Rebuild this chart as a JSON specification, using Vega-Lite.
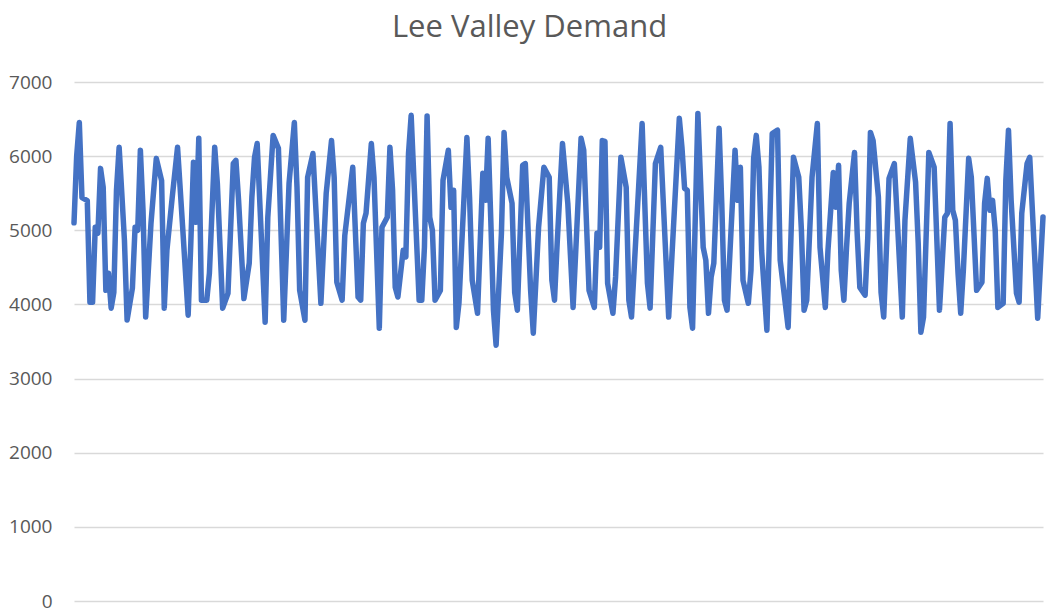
{
  "$schema": "https://vega.github.io/schema/vega-lite/v6.json",
  "width": 969,
  "height": 519,
  "autosize": {"type": "none"},
  "padding": {"left": 74, "top": 82, "right": 8, "bottom": 8},
  "background": "white",
  "title": {
    "text": "Lee Valley Demand",
    "font": "Open Sans",
    "fontSize": 31,
    "fontWeight": "normal",
    "color": "#595959",
    "anchor": "middle",
    "offset": 29,
    "dx": -29
  },
  "config": {"view": {"stroke": null}},
  "data": {
    "values": [
      {"day": 0, "demand": 5100}, {"day": 1, "demand": 6000}, {"day": 2, "demand": 6455}, {"day": 3, "demand": 5440},
      {"day": 5, "demand": 5400}, {"day": 6, "demand": 4030}, {"day": 7, "demand": 4030}, {"day": 8, "demand": 5040},
      {"day": 9, "demand": 4960}, {"day": 10, "demand": 5835}, {"day": 11, "demand": 5580}, {"day": 12, "demand": 4190},
      {"day": 13, "demand": 4420}, {"day": 14, "demand": 3950}, {"day": 15, "demand": 4160}, {"day": 16, "demand": 5540},
      {"day": 17, "demand": 6120}, {"day": 18, "demand": 5500}, {"day": 19, "demand": 4865}, {"day": 20, "demand": 3790},
      {"day": 22, "demand": 4220}, {"day": 23, "demand": 5040}, {"day": 24, "demand": 5000}, {"day": 25, "demand": 6080},
      {"day": 26, "demand": 5270}, {"day": 27, "demand": 3830}, {"day": 29, "demand": 5095}, {"day": 31, "demand": 5970},
      {"day": 33, "demand": 5670}, {"day": 34, "demand": 3950}, {"day": 35, "demand": 4730}, {"day": 37, "demand": 5445},
      {"day": 39, "demand": 6120}, {"day": 41, "demand": 5000}, {"day": 43, "demand": 3855}, {"day": 44, "demand": 4825},
      {"day": 45, "demand": 5916}, {"day": 46, "demand": 5108}, {"day": 47, "demand": 6240}, {"day": 48, "demand": 4057},
      {"day": 50, "demand": 4057}, {"day": 51, "demand": 4420}, {"day": 53, "demand": 6120}, {"day": 54, "demand": 5630},
      {"day": 56, "demand": 3950}, {"day": 58, "demand": 4150}, {"day": 60, "demand": 5900}, {"day": 61, "demand": 5943},
      {"day": 62, "demand": 5400}, {"day": 64, "demand": 4080}, {"day": 66, "demand": 4555}, {"day": 67, "demand": 5445},
      {"day": 68, "demand": 5985}, {"day": 69, "demand": 6170}, {"day": 72, "demand": 3760}, {"day": 73, "demand": 5175},
      {"day": 75, "demand": 6280}, {"day": 77, "demand": 6105}, {"day": 79, "demand": 3787}, {"day": 81, "demand": 5630},
      {"day": 83, "demand": 6455}, {"day": 84, "demand": 5580}, {"day": 85, "demand": 4190}, {"day": 87, "demand": 3787},
      {"day": 88, "demand": 5715}, {"day": 90, "demand": 6035}, {"day": 93, "demand": 4015}, {"day": 95, "demand": 5500},
      {"day": 97, "demand": 6210}, {"day": 98, "demand": 5715}, {"day": 99, "demand": 4300}, {"day": 101, "demand": 4057},
      {"day": 102, "demand": 4930}, {"day": 105, "demand": 5850}, {"day": 107, "demand": 4100}, {"day": 108, "demand": 4057},
      {"day": 109, "demand": 5095}, {"day": 110, "demand": 5230}, {"day": 112, "demand": 6170}, {"day": 113, "demand": 5715},
      {"day": 115, "demand": 3680}, {"day": 116, "demand": 5040}, {"day": 118, "demand": 5175}, {"day": 119, "demand": 6120},
      {"day": 120, "demand": 5540}, {"day": 121, "demand": 4230}, {"day": 122, "demand": 4100}, {"day": 124, "demand": 4730},
      {"day": 125, "demand": 4640}, {"day": 126, "demand": 6035}, {"day": 127, "demand": 6550}, {"day": 130, "demand": 4057},
      {"day": 131, "demand": 4057}, {"day": 132, "demand": 4770}, {"day": 133, "demand": 6540}, {"day": 134, "demand": 5175},
      {"day": 135, "demand": 5000}, {"day": 136, "demand": 4057}, {"day": 138, "demand": 4190}, {"day": 139, "demand": 5674},
      {"day": 141, "demand": 6080}, {"day": 142, "demand": 5310}, {"day": 143, "demand": 5540}, {"day": 144, "demand": 3690},
      {"day": 145, "demand": 4015}, {"day": 146, "demand": 4770}, {"day": 148, "demand": 6250}, {"day": 149, "demand": 5445},
      {"day": 150, "demand": 4326}, {"day": 152, "demand": 3880}, {"day": 154, "demand": 5770}, {"day": 155, "demand": 5404},
      {"day": 156, "demand": 6240}, {"day": 157, "demand": 5135}, {"day": 158, "demand": 3922}, {"day": 159, "demand": 3450},
      {"day": 161, "demand": 4960}, {"day": 162, "demand": 6320}, {"day": 163, "demand": 5715}, {"day": 165, "demand": 5365},
      {"day": 166, "demand": 4160}, {"day": 167, "demand": 3922}, {"day": 169, "demand": 5876}, {"day": 170, "demand": 5900},
      {"day": 172, "demand": 4190}, {"day": 173, "demand": 3612}, {"day": 175, "demand": 5040}, {"day": 177, "demand": 5850},
      {"day": 179, "demand": 5715}, {"day": 180, "demand": 4326}, {"day": 181, "demand": 4057}, {"day": 182, "demand": 4825},
      {"day": 184, "demand": 6170}, {"day": 186, "demand": 5365}, {"day": 188, "demand": 3960}, {"day": 191, "demand": 6240},
      {"day": 192, "demand": 6080}, {"day": 194, "demand": 4190}, {"day": 196, "demand": 3960}, {"day": 197, "demand": 4960},
      {"day": 198, "demand": 4770}, {"day": 199, "demand": 6210}, {"day": 200, "demand": 6200}, {"day": 201, "demand": 4285},
      {"day": 203, "demand": 3880}, {"day": 204, "demand": 4370}, {"day": 206, "demand": 5985}, {"day": 208, "demand": 5580},
      {"day": 209, "demand": 4057}, {"day": 210, "demand": 3830}, {"day": 214, "demand": 6440}, {"day": 216, "demand": 4285},
      {"day": 217, "demand": 3950}, {"day": 219, "demand": 5900}, {"day": 221, "demand": 6120}, {"day": 224, "demand": 3830},
      {"day": 228, "demand": 6510}, {"day": 229, "demand": 6120}, {"day": 230, "demand": 5565}, {"day": 231, "demand": 5540},
      {"day": 232, "demand": 3960}, {"day": 233, "demand": 3680}, {"day": 235, "demand": 6575}, {"day": 237, "demand": 4770},
      {"day": 238, "demand": 4596}, {"day": 239, "demand": 3880}, {"day": 240, "demand": 4370}, {"day": 241, "demand": 4555},
      {"day": 243, "demand": 6375}, {"day": 244, "demand": 5365}, {"day": 245, "demand": 4057}, {"day": 246, "demand": 3922},
      {"day": 249, "demand": 6080}, {"day": 250, "demand": 5404}, {"day": 251, "demand": 5850}, {"day": 252, "demand": 4326},
      {"day": 254, "demand": 4015}, {"day": 255, "demand": 4461}, {"day": 256, "demand": 5970}, {"day": 257, "demand": 6280},
      {"day": 258, "demand": 5850}, {"day": 259, "demand": 4730}, {"day": 261, "demand": 3652}, {"day": 263, "demand": 6305},
      {"day": 265, "demand": 6350}, {"day": 266, "demand": 4596}, {"day": 269, "demand": 3690}, {"day": 271, "demand": 5985},
      {"day": 273, "demand": 5715}, {"day": 274, "demand": 5000}, {"day": 275, "demand": 3922}, {"day": 276, "demand": 4057},
      {"day": 278, "demand": 5715}, {"day": 280, "demand": 6440}, {"day": 281, "demand": 4770}, {"day": 283, "demand": 3960},
      {"day": 284, "demand": 4730}, {"day": 286, "demand": 5780}, {"day": 287, "demand": 5310}, {"day": 288, "demand": 5876},
      {"day": 289, "demand": 4461}, {"day": 290, "demand": 4057}, {"day": 291, "demand": 4770}, {"day": 292, "demand": 5365},
      {"day": 294, "demand": 6050}, {"day": 295, "demand": 4960}, {"day": 296, "demand": 4230}, {"day": 298, "demand": 4125},
      {"day": 299, "demand": 4905}, {"day": 300, "demand": 6320}, {"day": 301, "demand": 6210}, {"day": 303, "demand": 5445},
      {"day": 304, "demand": 4160}, {"day": 305, "demand": 3830}, {"day": 306, "demand": 4730}, {"day": 307, "demand": 5700},
      {"day": 309, "demand": 5900}, {"day": 310, "demand": 5230}, {"day": 312, "demand": 3830}, {"day": 313, "demand": 5135},
      {"day": 315, "demand": 6240}, {"day": 317, "demand": 5650}, {"day": 318, "demand": 4825}, {"day": 319, "demand": 3625},
      {"day": 320, "demand": 3830}, {"day": 322, "demand": 6050}, {"day": 324, "demand": 5850}, {"day": 326, "demand": 3922},
      {"day": 328, "demand": 5175}, {"day": 329, "demand": 5230}, {"day": 330, "demand": 6440}, {"day": 331, "demand": 5270},
      {"day": 332, "demand": 5135}, {"day": 333, "demand": 4420}, {"day": 334, "demand": 3880}, {"day": 335, "demand": 4461},
      {"day": 337, "demand": 5970}, {"day": 338, "demand": 5715}, {"day": 340, "demand": 4190}, {"day": 342, "demand": 4300},
      {"day": 343, "demand": 5365}, {"day": 344, "demand": 5700}, {"day": 345, "demand": 5270}, {"day": 346, "demand": 5404},
      {"day": 347, "demand": 5000}, {"day": 348, "demand": 3960}, {"day": 350, "demand": 4015}, {"day": 351, "demand": 5674},
      {"day": 352, "demand": 6350}, {"day": 353, "demand": 5404}, {"day": 355, "demand": 4150}, {"day": 356, "demand": 4030},
      {"day": 357, "demand": 5230}, {"day": 359, "demand": 5900}, {"day": 360, "demand": 5985}, {"day": 361, "demand": 5270},
      {"day": 363, "demand": 3815}, {"day": 365, "demand": 5180}
    ]
  },
  "mark": {"type": "line", "color": "#4472C4", "strokeWidth": 5.5, "strokeJoin": "round", "strokeCap": "round"},
  "encoding": {
    "x": {"field": "day", "type": "quantitative", "scale": {"domain": [0, 365], "nice": false, "zero": false}, "axis": null},
    "y": {
      "field": "demand",
      "type": "quantitative",
      "scale": {"domain": [0, 7000], "nice": false},
      "axis": {
        "title": null,
        "values": [0, 1000, 2000, 3000, 4000, 5000, 6000, 7000],
        "format": "d",
        "domain": false,
        "ticks": false,
        "grid": true,
        "gridColor": "#D9D9D9",
        "gridWidth": 1.5,
        "labelFont": "Open Sans",
        "labelFontSize": 19,
        "labelColor": "#595959",
        "labelPadding": 22
      }
    }
  }
}
